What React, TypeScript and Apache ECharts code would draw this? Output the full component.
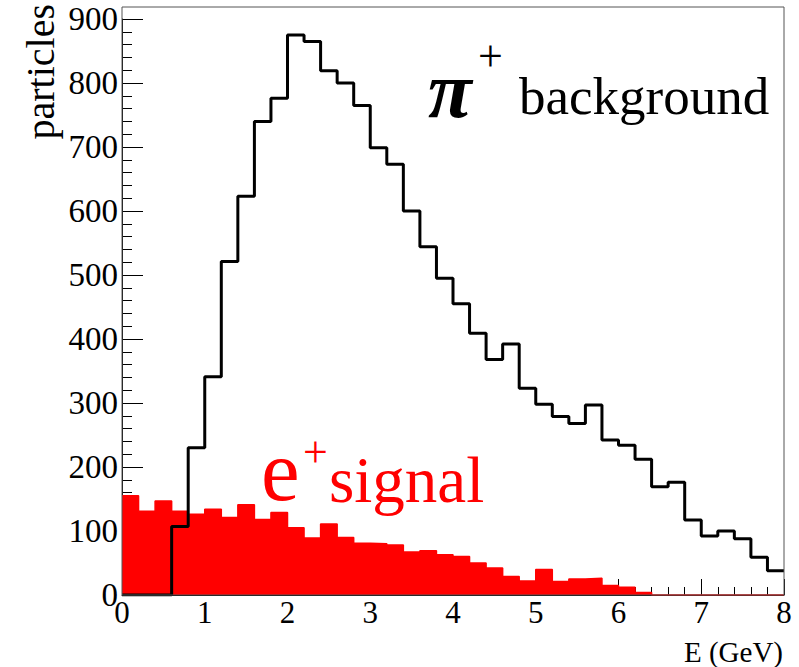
import React, { useEffect, useRef } from "react";
import * as echarts from "echarts";

// Histogram: 40 bins of 0.2 GeV between 0 and 8 GeV
const binWidth = 0.2;
const pionCounts = [
  0, 0, 0, 107, 230, 341, 521, 623, 740, 776,
  875, 865, 819, 800, 765, 699, 673, 600, 544, 495,
  455, 409, 368, 392, 323, 298, 279, 268, 297, 242,
  234, 212, 169, 176, 117, 92, 100, 88, 59, 38,
];
const positronCounts = [
  155, 131, 147, 131, 126, 134, 121, 141, 118, 129,
  105, 89, 111, 90, 81, 80, 78, 67, 69, 63,
  60, 50, 42, 29, 22, 40, 21, 25, 26, 15,
  12, 4, 0, 0, 0, 0, 0, 0, 0, 0,
];
const xTicks = [0, 1, 2, 3, 4, 5, 6, 7, 8];
const yTicks = [0, 100, 200, 300, 400, 500, 600, 700, 800, 900];
const xTitle = "E (GeV)";
const yTitle = "particles";

const SERIF = "Liberation Serif";

function stepData(counts: number[]) {
  const pts: [number, number][] = counts.map((c, i) => [
    +(i * binWidth).toFixed(2),
    c,
  ]);
  pts.push([+(counts.length * binWidth).toFixed(2), counts[counts.length - 1]]);
  return pts;
}

export default function App() {
  const ref = useRef<HTMLDivElement>(null);
  useEffect(() => {
    document.body.style.margin = "0";
    const chart = echarts.init(ref.current!, null, { renderer: "svg" });
    const left = 122;
    const right = 784;
    const top = 19;
    const bottom = 595;
    chart.setOption({
      animation: false,
      backgroundColor: "#fff",
      textStyle: { fontFamily: SERIF },
      grid: { left, right: 799 - right, top, bottom: 667 - bottom },
      xAxis: {
        type: "value",
        min: xTicks[0],
        max: xTicks[xTicks.length - 1],
        interval: 1,
        axisLine: { onZero: false, lineStyle: { color: "#000", width: 1 } },
        axisTick: { inside: true, length: 16, lineStyle: { color: "#000" } },
        minorTick: { show: true, splitNumber: 5, length: 8, lineStyle: { color: "#000" } },
        splitLine: { show: false },
        axisLabel: {
          fontFamily: SERIF,
          fontSize: 31,
          color: "#000",
          margin: 2,
        },
      },
      yAxis: {
        type: "value",
        min: yTicks[0],
        max: yTicks[yTicks.length - 1],
        interval: 100,
        axisLine: { show: true, lineStyle: { color: "#000", width: 1 } },
        axisTick: { show: true, inside: true, length: 21, lineStyle: { color: "#000" } },
        minorTick: { show: true, splitNumber: 5, length: 10, lineStyle: { color: "#000" } },
        splitLine: { show: false },
        axisLabel: {
          fontFamily: SERIF,
          fontSize: 33,
          color: "#000",
          margin: 4,
        },
      },
      series: [
        {
          type: "line",
          step: "end",
          data: stepData(positronCounts),
          symbol: "none",
          lineStyle: { color: "#ff0000", width: 1.5 },
          areaStyle: { color: "#ff0000", opacity: 1, origin: "start" },
          z: 2,
        },
        {
          type: "line",
          step: "end",
          data: stepData(pionCounts),
          symbol: "none",
          lineStyle: { color: "#000", width: 3 },
          z: 3,
        },
      ],
      graphic: [
        {
          type: "rect",
          shape: { x: left, y: 7, width: right - left, height: bottom - 7 },
          style: { fill: "none", stroke: "#555", lineWidth: 1 },
          z: 10,
          silent: true,
        },
        {
          type: "text",
          x: 40,
          y: 4,
          rotation: Math.PI / 2,
          style: {
            text: yTitle,
            fontFamily: SERIF,
            fontSize: 40,
            fill: "#000",
            align: "right",
            verticalAlign: "middle",
          },
        },
        {
          type: "text",
          x: 783,
          y: 666,
          style: {
            text: xTitle,
            fontFamily: SERIF,
            fontSize: 29,
            fill: "#000",
            align: "right",
            verticalAlign: "bottom",
          },
        },
        {
          type: "text",
          x: 428,
          y: 130,
          style: {
            text: "π",
            fontFamily: SERIF,
            fontWeight: "bold",
            fontStyle: "italic",
            fontSize: 80,
            fill: "#000",
            align: "left",
            verticalAlign: "bottom",
          },
        },
        {
          type: "text",
          x: 478,
          y: 78,
          style: {
            text: "+",
            fontFamily: SERIF,
            fontSize: 44,
            fill: "#000",
            align: "left",
            verticalAlign: "bottom",
          },
        },
        {
          type: "text",
          x: 519,
          y: 122,
          style: {
            text: "background",
            fontFamily: SERIF,
            fontSize: 53,
            fill: "#000",
            align: "left",
            verticalAlign: "bottom",
          },
        },
        {
          type: "text",
          x: 261,
          y: 514,
          style: {
            text: "e",
            fontFamily: SERIF,
            fontSize: 87,
            fill: "#ff0000",
            align: "left",
            verticalAlign: "bottom",
          },
        },
        {
          type: "text",
          x: 303,
          y: 474,
          style: {
            text: "+",
            fontFamily: SERIF,
            fontSize: 44,
            fill: "#ff0000",
            align: "left",
            verticalAlign: "bottom",
          },
        },
        {
          type: "text",
          x: 329,
          y: 512,
          style: {
            text: "signal",
            fontFamily: SERIF,
            fontSize: 65,
            fill: "#ff0000",
            align: "left",
            verticalAlign: "bottom",
          },
        },
      ],
    });
    return () => chart.dispose();
  }, []);
  return (
    <div
      ref={ref}
      style={{ position: "absolute", left: 0, top: 0, width: 799, height: 667 }}
    />
  );
}
